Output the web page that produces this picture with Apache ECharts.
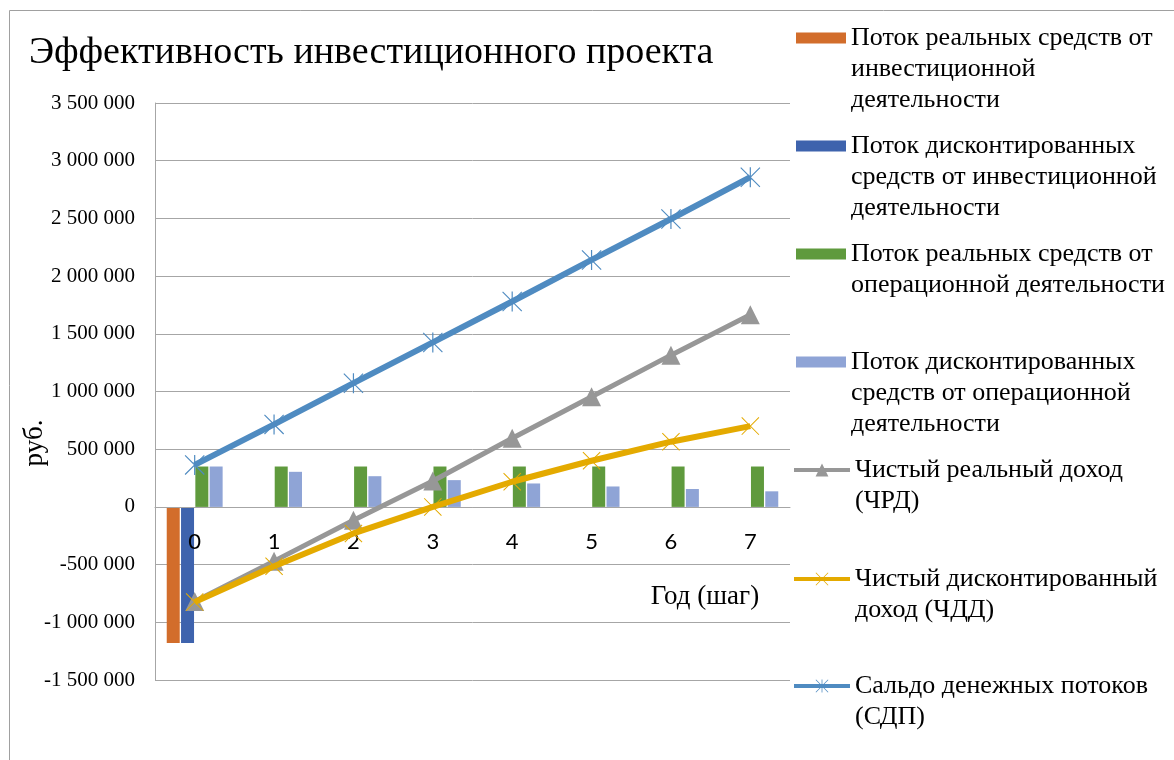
<!DOCTYPE html>
<html>
<head>
<meta charset="utf-8">
<script src="https://cdn.jsdelivr.net/npm/echarts@6/dist/echarts.min.js"></script>
<style>
  html, body { margin: 0; padding: 0; background: #fff; }
  #chart { width: 1174px; height: 760px; }
</style>
</head>
<body>
<div id="chart"></div>
<script>
// шаги проекта
const years = ['0', '1', '2', '3', '4', '5', '6', '7']

// потоки, руб.
const investReal = [-1180000, null, null, null, null, null, null, null]
const investDisc = [-1180000, null, null, null, null, null, null, null]
const operReal = [350000, 350000, 350000, 350000, 350000, 350000, 350000, 350000]
const operDisc = [350000, 304000, 266000, 232000, 203000, 177000, 155000, 135000]

// итоговые показатели, руб.
const chrd = [-820000, -470000, -115000, 225000, 595000, 955000, 1315000, 1665000]
const chdd = [-825000, -515000, -230000, 0, 218000, 400000, 565000, 700000]
const sdp = [364000, 715000, 1072000, 1425000, 1780000, 2140000, 2495000, 2857000]

const seriesNames = [
  'Поток реальных средств от инвестиционной деятельности',
  'Поток дисконтированных средств от инвестиционной деятельности',
  'Поток реальных средств от операционной деятельности',
  'Поток дисконтированных средств от операционной деятельности',
  'Чистый реальный доход (ЧРД)',
  'Чистый дисконтированный доход (ЧДД)',
  'Сальдо денежных потоков (СДП)',
]
const legendLabels = [
  'Поток реальных средств от\nинвестиционной\nдеятельности',
  'Поток дисконтированных\nсредств от инвестиционной\nдеятельности',
  'Поток реальных средств от\nоперационной деятельности',
  'Поток дисконтированных\nсредств от операционной\nдеятельности',
  'Чистый реальный доход\n(ЧРД)',
  'Чистый дисконтированный\nдоход (ЧДД)',
  'Сальдо денежных потоков\n(СДП)',
]

const serif = "'Liberation Serif', 'DejaVu Serif', serif"
const gridColor = '#a6a6a6'
const colors = ['#d26d2b', '#3e63ad', '#5f9a3d', '#8fa4d6', '#979797', '#e4aa00', '#4f8bc1']

// маркеры: косой крест и звёздочка
const crossPath = 'path://M0,0.8 L0.8,0 L20,19.2 L19.2,20 Z M19.2,0 L20,0.8 L0.8,20 L0,19.2 Z'
const starPath = crossPath + ' M9.4,0 L10.6,0 L10.6,20 L9.4,20 Z'

const fmt = (v) => {
  const s = String(Math.abs(v)).replace(/\B(?=(\d{3})+(?!\d))/g, ' ')
  return v < 0 ? '-' + s : s
}

// отдельная легенда на каждый ряд; пустые строки сверху,
// чтобы значок стоял напротив первой строки подписи
const legendCenters = [38, 146, 254, 362, 470, 579, 686]
const lineH = 31
const legends = seriesNames.map((name, i) => {
  const n = legendLabels[i].split('\n').length
  const isLine = i >= 4
  const label = '\n'.repeat(n - 1) + legendLabels[i]
  return {
    data: [name],
    left: isLine ? 792 : 796,
    top: legendCenters[i] - ((2 * n - 1) * lineH) / 2,
    padding: 0,
    selectedMode: false,
    itemWidth: isLine ? 56 : 50,
    itemHeight: isLine ? 16 : 11,
    icon: isLine ? undefined : 'rect',
    lineStyle: { width: 4 },
    formatter: () => label,
    textStyle: {
      fontFamily: serif,
      fontSize: 26,
      color: '#000',
      lineHeight: lineH,
    },
  }
})

const barSeries = [investReal, investDisc, operReal, operDisc].map((data, i) => ({
  name: seriesNames[i],
  type: 'bar',
  data: data,
  barWidth: 13,
  barGap: '10%',
  itemStyle: { color: colors[i] },
  z: 2,
}))

const lineDefs = [
  { data: chrd, symbol: 'triangle', size: 19, width: 5 },
  { data: chdd, symbol: crossPath, size: 18, width: 6 },
  { data: sdp, symbol: starPath, size: 20, width: 6 },
]
const lineSeries = lineDefs.map((d, k) => ({
  name: seriesNames[4 + k],
  type: 'line',
  data: d.data,
  symbol: d.symbol,
  symbolSize: d.size,
  showAllSymbol: true,
  lineStyle: { width: d.width, color: colors[4 + k] },
  itemStyle: { color: colors[4 + k], borderWidth: 0 },
  z: 4 + k,
}))

const chart = echarts.init(document.getElementById('chart'))
chart.setOption({
  animation: false,
  title: {
    text: 'Эффективность инвестиционного проекта',
    left: 29,
    top: 34,
    padding: 0,
    textStyle: { fontFamily: serif, fontSize: 38, fontWeight: 'normal', color: '#000' },
  },
  legend: legends,
  grid: { left: 155, right: 384, top: 103, bottom: 80 },
  xAxis: {
    type: 'category',
    data: years,
    z: 3,
    axisLine: { onZero: false, lineStyle: { color: gridColor } },
    axisTick: { show: false },
    axisLabel: { margin: 24, fontSize: 22, color: '#000', fontFamily: "Lato, 'Noto Sans', sans-serif" },
  },
  yAxis: {
    type: 'value',
    min: -1500000,
    max: 3500000,
    interval: 500000,
    axisLine: { show: true, lineStyle: { color: gridColor } },
    axisTick: { show: false },
    axisLabel: { margin: 20, fontSize: 21, color: '#000', fontFamily: serif, formatter: fmt },
    splitLine: { lineStyle: { color: gridColor, width: 1 } },
  },
  graphic: [
    {
      type: 'rect',
      shape: { x: 9.5, y: 10.5, width: 1300, height: 900 },
      style: { fill: 'none', stroke: '#a0a0a0', lineWidth: 1 },
      silent: true,
    },
    {
      type: 'text',
      x: 35,
      y: 443,
      rotation: Math.PI / 2,
      style: { text: 'руб.', fontFamily: serif, fontSize: 27, fill: '#000', align: 'center', verticalAlign: 'middle' },
    },
    {
      type: 'text',
      x: 705,
      y: 597,
      style: { text: 'Год (шаг)', fontFamily: serif, fontSize: 27, fill: '#000', align: 'center', verticalAlign: 'middle' },
    },
  ],
  series: barSeries.concat(lineSeries),
})

// ось категорий проходит через ноль шкалы значений
const zeroY = chart.convertToPixel({ yAxisIndex: 0 }, 0)
const bottomY = chart.convertToPixel({ yAxisIndex: 0 }, -1500000)
chart.setOption({ xAxis: { offset: zeroY - bottomY } })
</script>
</body>
</html>
